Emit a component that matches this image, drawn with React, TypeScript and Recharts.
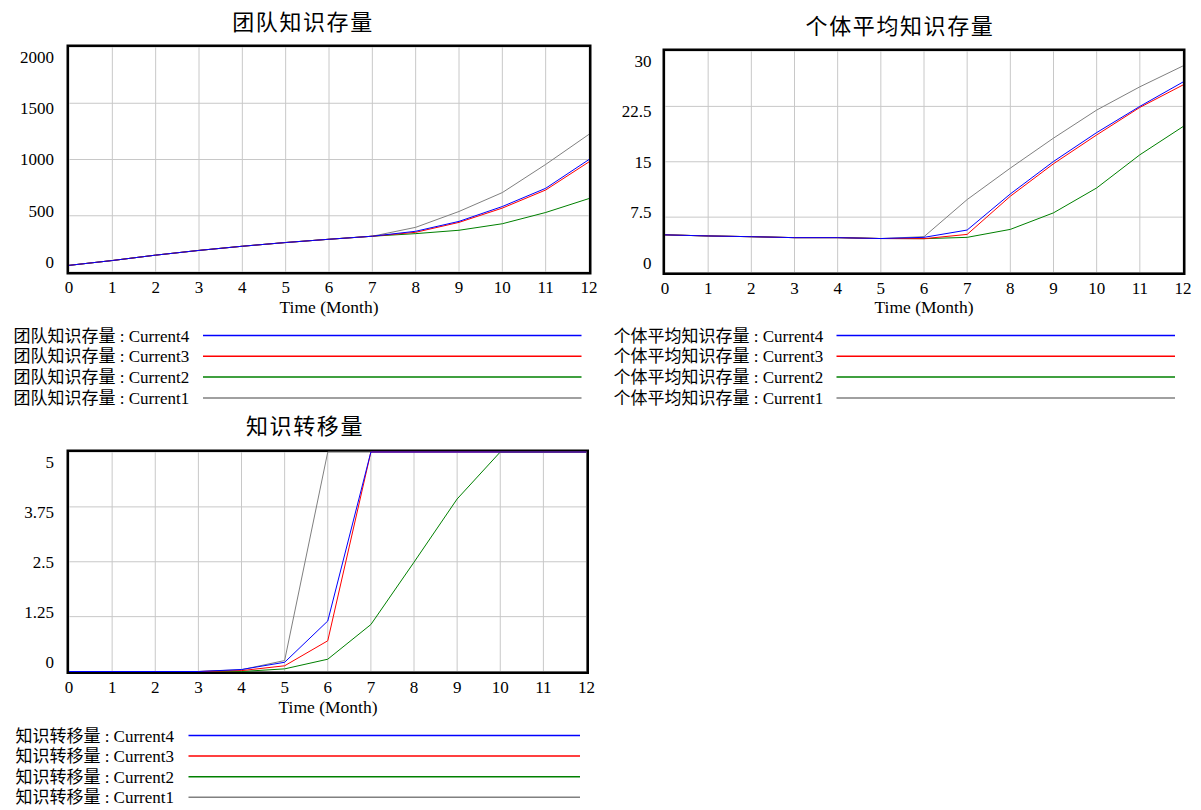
import React from 'react';
import { LineChart, Line, XAxis, YAxis, CartesianGrid, ReferenceArea } from 'recharts';

// ---------- data ----------
const months = [0, 1, 2, 3, 4, 5, 6, 7, 8, 9, 10, 11, 12];
const seriesNames = ['Current4', 'Current3', 'Current2', 'Current1'];
const seriesColors = ['#0000ff', '#ff0000', '#008000', '#808080'];

// 团队知识存量
const teamTitle = '团队知识存量';
const teamYTicks = [0, 500, 1000, 1500, 2000];
const teamYLabels = ['0', '500', '1000', '1500', '2000'];
const teamCurrent4 = [59, 102, 150, 192, 229, 262, 291, 318, 362, 450, 582, 744, 1000];
const teamCurrent3 = [59, 102, 150, 192, 229, 262, 291, 318, 353, 441, 568, 729, 979];
const teamCurrent2 = [59, 102, 150, 192, 229, 262, 291, 318, 341, 371, 429, 529, 653];
const teamCurrent1 = [59, 102, 150, 192, 229, 262, 291, 318, 397, 538, 706, 956, 1224];

// 个体平均知识存量
const avgTitle = '个体平均知识存量';
const avgYTicks = [0, 7.5, 15, 22.5, 30];
const avgYLabels = ['0', '7.5', '15', '22.5', '30'];
const avgCurrent4 = [5.1, 4.95, 4.85, 4.72, 4.72, 4.6, 4.76, 5.75, 10.64, 15.04, 18.95, 22.5, 25.8];
const avgCurrent3 = [5.1, 4.95, 4.85, 4.72, 4.72, 4.6, 4.58, 5.16, 10.33, 14.73, 18.63, 22.36, 25.4];
const avgCurrent2 = [5.1, 4.95, 4.85, 4.72, 4.72, 4.6, 4.58, 4.76, 5.84, 8.08, 11.45, 15.94, 19.76];
const avgCurrent1 = [5.1, 4.95, 4.85, 4.72, 4.72, 4.6, 4.85, 9.88, 14.14, 18.2, 22.0, 25.15, 27.98];

// 知识转移量
const transTitle = '知识转移量';
const transYTicks = [0, 1.25, 2.5, 3.75, 5];
const transYLabels = ['0', '1.25', '2.5', '3.75', '5'];
const transCurrent4 = [0, 0, 0, 0, 0.045, 0.21, 1.15, 5, 5, 5, 5, 5, 5];
const transCurrent3 = [0, 0, 0, 0, 0.02, 0.13, 0.7, 5, 5, 5, 5, 5, 5];
const transCurrent2 = [0, 0, 0, 0, 0, 0.06, 0.28, 1.07, 2.49, 3.93, 5, 5, 5];
const transCurrent1 = [0, 0, 0, 0, 0.04, 0.25, 5, 5, 5, 5, 5, 5, 5];

const xAxisLabel = 'Time (Month)';

const SERIF = "'Liberation Serif', 'Times New Roman', serif";
const MIXED = "'Liberation Serif', 'Noto Sans CJK SC', serif";
const CJK = "'Noto Sans CJK SC', sans-serif";

type PanelProps = {
  left: number;
  top: number;
  width: number;
  height: number;
  plotLeft: number; // chart coords
  plotRight: number;
  plotTop: number;
  plotBottom: number;
  yMax: number;
  yTicks: number[];
  yLabels: string[];
  yLabelRight: number;
  values: number[][]; // in seriesNames order
};

function Panel(p: PanelProps) {
  const data = months.map((t, i) => {
    const row: any = { t };
    seriesNames.forEach((n, k) => {
      row[n] = p.values[k][i];
    });
    return row;
  });

  const YTick = (props: any) => {
    const v = props.payload.value;
    const idx = p.yTicks.indexOf(v);
    const cy = props.y - 9.5 + 19.5 * (v / p.yMax);
    return (
      <text x={p.yLabelRight} y={cy + 5.6} textAnchor="end" fontFamily={SERIF} fontSize={17} fill="#000">
        {idx >= 0 ? p.yLabels[idx] : String(v)}
      </text>
    );
  };
  const XTick = (props: any) => (
    <text x={props.x} y={p.plotBottom + 21} textAnchor="middle" fontFamily={SERIF} fontSize={17} fill="#000">
      {props.payload.value}
    </text>
  );
  const Border = (props: any) => (
    <rect
      x={props.x - 1.25}
      y={props.y - 1.25}
      width={props.width + 2.5}
      height={props.height + 2.5}
      fill="none"
      stroke="#000"
      strokeWidth={2.5}
    />
  );

  const order = [3, 2, 1, 0];
  return (
    <div style={{ position: 'absolute', left: p.left, top: p.top, width: p.width, height: p.height }}>
      <LineChart
        width={p.width}
        height={p.height}
        data={data}
        margin={{ left: 0, top: p.plotTop, right: p.width - p.plotRight, bottom: 0 }}
      >
        <CartesianGrid stroke="#c8c8c8" strokeWidth={1} />
        <XAxis
          dataKey="t"
          type="number"
          domain={[0, 12]}
          ticks={months}
          interval={0}
          axisLine={false}
          tickLine={false}
          height={p.height - p.plotBottom}
          tick={XTick}
        />
        <YAxis
          type="number"
          domain={[0, p.yMax]}
          ticks={p.yTicks}
          interval={0}
          axisLine={false}
          tickLine={false}
          width={p.plotLeft}
          tick={YTick}
        />
        {order.map((k) => (
          <Line
            key={seriesNames[k]}
            dataKey={seriesNames[k]}
            stroke={seriesColors[k]}
            strokeWidth={1}
            dot={false}
            activeDot={false}
            type="linear"
            isAnimationActive={false}
          />
        ))}
        <ReferenceArea x1={0} x2={12} y1={0} y2={p.yMax} shape={Border} ifOverflow="visible" />
      </LineChart>
    </div>
  );
}

type LegendSpec = {
  prefix: string;
  textX: number;
  rowY0: number;
  rowStep: number;
  lineX1: number;
  lineX2: number;
};

function LegendBlock(l: LegendSpec) {
  return (
    <g>
      {seriesNames.map((n, i) => {
        const cy = l.rowY0 + l.rowStep * i;
        return (
          <g key={n}>
            <text x={l.textX} y={cy + 6} fontFamily={MIXED} fontSize={17} fill="#000">
              {`${l.prefix} : ${n}`}
            </text>
            <line x1={l.lineX1} x2={l.lineX2} y1={cy} y2={cy} stroke={seriesColors[i]} strokeWidth={1.5} />
          </g>
        );
      })}
    </g>
  );
}

export default function App() {
  return (
    <div style={{ position: 'absolute', left: 0, top: 0, width: 1201, height: 810, background: '#fff', overflow: 'hidden' }}>
      <Panel
        left={0}
        top={0}
        width={600}
        height={320}
        plotLeft={69}
        plotRight={589}
        plotTop={47}
        plotBottom={272}
        yMax={2000}
        yTicks={teamYTicks}
        yLabels={teamYLabels}
        yLabelRight={54}
        values={[teamCurrent4, teamCurrent3, teamCurrent2, teamCurrent1]}
      />
      <Panel
        left={600}
        top={0}
        width={601}
        height={320}
        plotLeft={65}
        plotRight={583}
        plotTop={51}
        plotBottom={272.5}
        yMax={30}
        yTicks={avgYTicks}
        yLabels={avgYLabels}
        yLabelRight={51.5}
        values={[avgCurrent4, avgCurrent3, avgCurrent2, avgCurrent1]}
      />
      <Panel
        left={0}
        top={400}
        width={600}
        height={320}
        plotLeft={69}
        plotRight={586.5}
        plotTop={52}
        plotBottom={271.5}
        yMax={5}
        yTicks={transYTicks}
        yLabels={transYLabels}
        yLabelRight={54}
        values={[transCurrent4, transCurrent3, transCurrent2, transCurrent1]}
      />
      <svg
        width={1201}
        height={810}
        style={{ position: 'absolute', left: 0, top: 0, pointerEvents: 'none' }}
      >
        <text x={303} y={29.5} textAnchor="middle" fontFamily={CJK} fontSize={22} letterSpacing={1.6} fill="#000">
          {teamTitle}
        </text>
        <text x={900} y={33.5} textAnchor="middle" fontFamily={CJK} fontSize={22} letterSpacing={1.6} fill="#000">
          {avgTitle}
        </text>
        <text x={305} y={433.5} textAnchor="middle" fontFamily={CJK} fontSize={22} letterSpacing={1.6} fill="#000">
          {transTitle}
        </text>
        <text x={329} y={313} textAnchor="middle" fontFamily={SERIF} fontSize={17.5} fill="#000">
          {xAxisLabel}
        </text>
        <text x={924} y={313} textAnchor="middle" fontFamily={SERIF} fontSize={17.5} fill="#000">
          {xAxisLabel}
        </text>
        <text x={328} y={713} textAnchor="middle" fontFamily={SERIF} fontSize={17.5} fill="#000">
          {xAxisLabel}
        </text>
        <LegendBlock prefix={teamTitle} textX={13.5} rowY0={335.5} rowStep={20.8} lineX1={203} lineX2={581.5} />
        <LegendBlock prefix={avgTitle} textX={613.5} rowY0={335.5} rowStep={20.8} lineX1={836.5} lineX2={1175} />
        <LegendBlock prefix={transTitle} textX={15.4} rowY0={735.5} rowStep={20.6} lineX1={188.5} lineX2={580} />
      </svg>
    </div>
  );
}
